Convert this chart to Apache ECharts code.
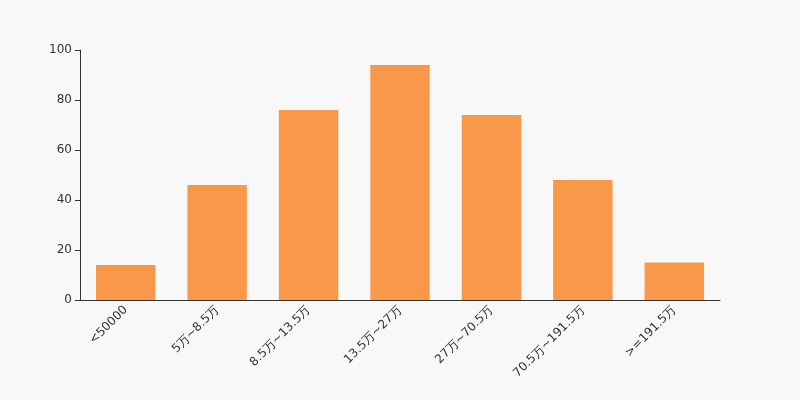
<!DOCTYPE html>
<html><head><meta charset="utf-8">
<script src="https://cdn.jsdelivr.net/npm/echarts@6/dist/echarts.min.js"></script>
<style>html,body{margin:0;padding:0;background:#f8f8f8}#c{width:800px;height:400px}</style>
</head><body><div id="c"></div>
<script>
const categories = ['<50000','5万~8.5万','8.5万~13.5万','13.5万~27万','27万~70.5万','70.5万~191.5万','>=191.5万'];
const values = [14, 46, 76, 94, 74, 48, 15];
const yTicks = {min: 0, max: 100, interval: 20};

const chart = echarts.init(document.getElementById('c'));
chart.setOption({
  backgroundColor: '#f8f8f8',
  textStyle: {fontFamily: 'DejaVu Sans'},
  grid: {left: 80, right: 80, top: 50, bottom: 100},
  xAxis: {
    type: 'category', data: categories,
    axisLine: {lineStyle: {color: '#333'}},
    axisTick: {lineStyle: {color: '#333'}},
    axisLabel: {rotate: 45, color: '#333', fontSize: 12, interval: 0}
  },
  yAxis: {
    type: 'value', min: yTicks.min, max: yTicks.max, interval: yTicks.interval,
    axisLine: {show: true, lineStyle: {color: '#333'}},
    axisTick: {show: true, lineStyle: {color: '#333'}},
    axisLabel: {color: '#333', fontSize: 12},
    splitLine: {show: false}
  },
  series: [{
    type: 'bar', data: values, barWidth: '65%',
    itemStyle: {color: '#f89848'}
  }]
});
</script></body></html>
